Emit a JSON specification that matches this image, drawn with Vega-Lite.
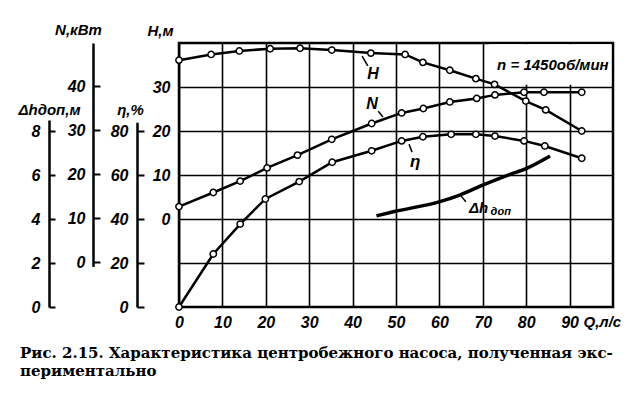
{
  "$schema": "https://vega.github.io/schema/vega-lite/v6.json",
  "width": 434,
  "height": 264,
  "autosize": "none",
  "padding": {"left": 179, "top": 43, "right": 19, "bottom": 91},
  "background": "white",
  "config": {
    "view": {"stroke": "black", "strokeWidth": 2.5},
    "axis": {
      "labelFont": "Liberation Sans", "labelFontStyle": "italic", "labelFontWeight": "bold", "labelFontSize": 16, "labelColor": "black",
      "titleFont": "Liberation Sans", "titleFontStyle": "italic", "titleFontWeight": "bold", "titleFontSize": 15, "titleColor": "black",
      "domainColor": "black", "domainWidth": 2.5, "tickColor": "black", "tickWidth": 2,
      "gridColor": "black", "gridOpacity": 1, "gridWidth": 1.6,
      "labelFlush": false, "labelOverlap": false
    }
  },
  "title": {
    "text": ["Рис. 2.15. Характеристика центробежного насоса, полученная экс-", "периментально"],
    "orient": "bottom", "anchor": "start", "frame": "group", "dx": -159, "offset": 16,
    "font": "DejaVu Serif", "fontWeight": "bold", "fontSize": 15, "lineHeight": 18, "color": "black"
  },
  "datasets": {
    "head": [
      {"Q": 0, "H": 36.1}, {"Q": 7.4, "H": 37.4}, {"Q": 13.9, "H": 38.2}, {"Q": 21.0, "H": 38.7},
      {"Q": 27.9, "H": 38.8}, {"Q": 35.2, "H": 38.4}, {"Q": 44.2, "H": 37.7}, {"Q": 52.1, "H": 37.4},
      {"Q": 56.2, "H": 35.6}, {"Q": 62.4, "H": 33.8}, {"Q": 68.4, "H": 31.9}, {"Q": 72.7, "H": 30.6},
      {"Q": 79.9, "H": 26.8}, {"Q": 84.5, "H": 24.8}, {"Q": 92.8, "H": 20.0}
    ],
    "power": [
      {"Q": 0, "N": 12.6}, {"Q": 7.9, "N": 15.8}, {"Q": 14.1, "N": 18.4}, {"Q": 20.3, "N": 21.4},
      {"Q": 27.3, "N": 24.3}, {"Q": 35.2, "N": 27.9}, {"Q": 44.4, "N": 31.5}, {"Q": 51.3, "N": 33.9},
      {"Q": 56.3, "N": 34.9}, {"Q": 62.4, "N": 36.4}, {"Q": 68.6, "N": 37.2}, {"Q": 72.8, "N": 38.0},
      {"Q": 79.5, "N": 38.6}, {"Q": 84.1, "N": 38.6}, {"Q": 92.8, "N": 38.6}
    ],
    "eff": [
      {"Q": 0, "eta": 0}, {"Q": 7.9, "eta": 24.1}, {"Q": 14.1, "eta": 37.7}, {"Q": 19.9, "eta": 49.1},
      {"Q": 27.7, "eta": 57.0}, {"Q": 35.3, "eta": 65.8}, {"Q": 44.4, "eta": 71.0}, {"Q": 51.3, "eta": 75.5},
      {"Q": 56.2, "eta": 77.4}, {"Q": 62.7, "eta": 78.5}, {"Q": 68.4, "eta": 78.5}, {"Q": 72.8, "eta": 77.7},
      {"Q": 79.5, "eta": 75.5}, {"Q": 84.3, "eta": 73.2}, {"Q": 92.8, "eta": 67.6}
    ],
    "npsh": [
      {"Q": 45.5, "dh": 4.14}, {"Q": 49.4, "dh": 4.33}, {"Q": 60.1, "dh": 4.79}, {"Q": 64.7, "dh": 5.09},
      {"Q": 70.1, "dh": 5.55}, {"Q": 76.3, "dh": 6.03}, {"Q": 80.1, "dh": 6.30}, {"Q": 85.5, "dh": 6.86}
    ]
  },
  "layer": [
    {
      "layer": [
        {
          "data": {"values": [{}]},
          "mark": {"type": "rect", "fill": "white"},
          "encoding": {
            "x": {"datum": 71.5, "type": "quantitative"}, "x2": {"datum": 99.6},
            "y": {"datum": 30.5, "type": "quantitative"}, "y2": {"datum": 39.7}
          }
        },
        {
          "data": {"name": "head"},
          "mark": {"type": "line", "color": "black", "strokeWidth": 2.5},
          "encoding": {
            "x": {"field": "Q", "type": "quantitative", "scale": {"domain": [0, 100], "nice": false, "zero": false},
              "axis": {"title": "Q,л/с", "values": [0, 10, 20, 30, 40, 50, 60, 70, 80, 90], "grid": true, "ticks": false, "domain": false,
                "labelPadding": 7, "labelBaseline": "top", "titleX": 404, "titleY": 7, "titleAlign": "left", "titleBaseline": "top", "titleAngle": 0}},
            "y": {"field": "H", "type": "quantitative", "scale": {"domain": [-20, 40], "nice": false, "zero": false},
              "axis": {"title": "H,м", "orient": "left", "offset": 0, "values": [-10, 0, 10, 20, 30],
                "labelExpr": "datum.value < 0 ? '' : datum.label", "grid": true, "ticks": false, "domain": false,
                "labelPadding": 9, "titleAngle": 0, "titleX": -19, "titleY": -8, "titleAlign": "center", "titleBaseline": "alphabetic"}}
          }
        },
        {
          "data": {"name": "head"},
          "mark": {"type": "point", "shape": "circle", "filled": true, "fill": "white", "stroke": "black", "strokeWidth": 1.5, "size": 40, "opacity": 1},
          "encoding": {
            "x": {"field": "Q", "type": "quantitative"},
            "y": {"field": "H", "type": "quantitative"}
          }
        },
        {
          "data": {"values": [{}]},
          "mark": {"type": "rule", "color": "black", "strokeWidth": 1.5},
          "encoding": {"x": {"datum": 43.5, "type": "quantitative"}, "y": {"datum": 34.8, "type": "quantitative"}, "x2": {"datum": 42.2}, "y2": {"datum": 37.0}}
        },
        {
          "data": {"values": [{}]},
          "mark": {"type": "rule", "color": "black", "strokeWidth": 1.5},
          "encoding": {"x": {"datum": 45.9, "type": "quantitative"}, "y": {"datum": 24.5, "type": "quantitative"}, "x2": {"datum": 47.0}, "y2": {"datum": 23.2}}
        },
        {
          "data": {"values": [{}]},
          "mark": {"type": "rule", "color": "black", "strokeWidth": 1.5},
          "encoding": {"x": {"datum": 53.7, "type": "quantitative"}, "y": {"datum": 15.2, "type": "quantitative"}, "x2": {"datum": 53.0}, "y2": {"datum": 17.0}}
        },
        {
          "data": {"values": [{}]},
          "mark": {"type": "rule", "color": "black", "strokeWidth": 1.5},
          "encoding": {"x": {"datum": 66.1, "type": "quantitative"}, "y": {"datum": 3.9, "type": "quantitative"}, "x2": {"datum": 65.0}, "y2": {"datum": 5.2}}
        },
        {
          "data": {"values": [{}]},
          "mark": {"type": "text", "font": "Liberation Sans", "fontStyle": "italic", "fontWeight": "bold", "fontSize": 16, "color": "black"},
          "encoding": {"x": {"datum": 44.7, "type": "quantitative"}, "y": {"datum": 33.0, "type": "quantitative"}, "text": {"value": "H"}}
        },
        {
          "data": {"values": [{}]},
          "mark": {"type": "text", "font": "Liberation Sans", "fontStyle": "italic", "fontWeight": "bold", "fontSize": 16, "color": "black"},
          "encoding": {"x": {"datum": 44.5, "type": "quantitative"}, "y": {"datum": 26.1, "type": "quantitative"}, "text": {"value": "N"}}
        },
        {
          "data": {"values": [{}]},
          "mark": {"type": "text", "font": "Liberation Sans", "fontStyle": "italic", "fontWeight": "bold", "fontSize": 17, "color": "black"},
          "encoding": {"x": {"datum": 54.4, "type": "quantitative"}, "y": {"datum": 13.0, "type": "quantitative"}, "text": {"value": "η"}}
        },
        {
          "data": {"values": [{}]},
          "mark": {"type": "text", "font": "Liberation Sans", "fontStyle": "italic", "fontWeight": "bold", "fontSize": 15, "color": "black", "align": "left"},
          "encoding": {"x": {"datum": 66.8, "type": "quantitative"}, "y": {"datum": 2.5, "type": "quantitative"}, "text": {"value": "Δh"}}
        },
        {
          "data": {"values": [{}]},
          "mark": {"type": "text", "font": "Liberation Sans", "fontStyle": "italic", "fontWeight": "bold", "fontSize": 11, "color": "black", "align": "left"},
          "encoding": {"x": {"datum": 71.8, "type": "quantitative"}, "y": {"datum": 1.6, "type": "quantitative"}, "text": {"value": "доп"}}
        },
        {
          "data": {"values": [{}]},
          "mark": {"type": "text", "font": "Liberation Sans", "fontStyle": "italic", "fontWeight": "bold", "fontSize": 15, "color": "black", "align": "left"},
          "encoding": {"x": {"datum": 73.3, "type": "quantitative"}, "y": {"datum": 35.0, "type": "quantitative"}, "text": {"value": "n = 1450об/мин"}}
        }
      ]
    },
    {
      "data": {"name": "power"},
      "layer": [
        {
          "mark": {"type": "line", "color": "black", "strokeWidth": 2.5},
          "encoding": {
            "x": {"field": "Q", "type": "quantitative"},
            "y": {"field": "N", "type": "quantitative", "scale": {"domain": [-1, 49.8], "range": [223.4, 0], "nice": false, "zero": false},
              "axis": {"title": "N,кВт", "orient": "left", "offset": 86, "values": [0, 10, 20, 30, 40], "grid": false,
                "tickSize": -7, "labelPadding": 15, "titleAngle": 0, "titleX": -15, "titleY": -9, "titleAlign": "center", "titleBaseline": "alphabetic"}}
          }
        },
        {
          "mark": {"type": "point", "shape": "circle", "filled": true, "fill": "white", "stroke": "black", "strokeWidth": 1.5, "size": 40, "opacity": 1},
          "encoding": {
            "x": {"field": "Q", "type": "quantitative"},
            "y": {"field": "N", "type": "quantitative"}
          }
        }
      ]
    },
    {
      "data": {"name": "eff"},
      "layer": [
        {
          "mark": {"type": "line", "color": "black", "strokeWidth": 2.5},
          "encoding": {
            "x": {"field": "Q", "type": "quantitative"},
            "y": {"field": "eta", "type": "quantitative", "scale": {"domain": [0, 84], "range": [264, 79.2], "nice": false, "zero": false},
              "axis": {"title": "η,%", "orient": "left", "offset": 42, "values": [0, 20, 40, 60, 80], "grid": false,
                "tickSize": -7, "labelPadding": 16, "titleAngle": 0, "titleX": -7, "titleY": 71, "titleAlign": "center", "titleBaseline": "alphabetic"}}
          }
        },
        {
          "mark": {"type": "point", "shape": "circle", "filled": true, "fill": "white", "stroke": "black", "strokeWidth": 1.5, "size": 40, "opacity": 1},
          "encoding": {
            "x": {"field": "Q", "type": "quantitative"},
            "y": {"field": "eta", "type": "quantitative"}
          }
        }
      ]
    },
    {
      "data": {"name": "npsh"},
      "mark": {"type": "line", "color": "black", "strokeWidth": 3.5, "interpolate": "monotone"},
      "encoding": {
        "x": {"field": "Q", "type": "quantitative"},
        "y": {"field": "dh", "type": "quantitative", "scale": {"domain": [0, 8.5], "range": [264, 77], "nice": false, "zero": false},
          "axis": {"title": "Δhдоп,м", "orient": "left", "offset": 130, "values": [0, 2, 4, 6, 8], "grid": false,
            "tickSize": -6, "labelPadding": 15, "titleAngle": 0, "titleX": 0, "titleY": 71, "titleAlign": "center", "titleBaseline": "alphabetic"}}
      }
    }
  ],
  "resolve": {"scale": {"y": "independent"}, "axis": {"y": "independent"}}
}
